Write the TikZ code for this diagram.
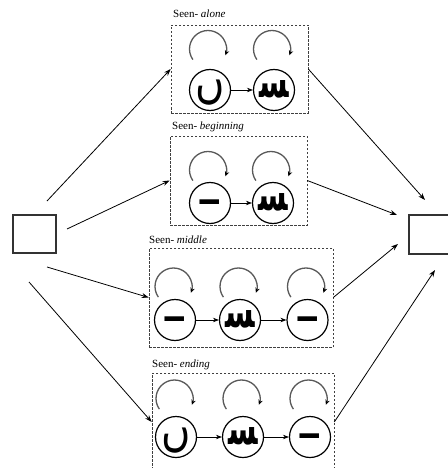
\documentclass[tikz,border=0pt]{standalone}
\usepackage{fontspec}
\setmainfont{Liberation Serif}
\newfontfamily\arabicfont[Script=Arabic]{DejaVu Sans}
\TeXXeTstate=1
\usetikzlibrary{arrows.meta}
\newcommand\statloop[2]{\draw[loopy] ([shift={(215:18.5pt)}]#1,#2) arc[start angle=215,end angle=-20,radius=18.5pt];}
\newcommand\inbox[1]{\smash{\makebox[0pt]{#1}}}
\newcommand\tailglyph{\inbox{\raisebox{-8pt}{\scalebox{1}[1.2]{\arabicfont\fontsize{40}{40}\selectfont\beginR ں\endR}}}}
\newcommand\teethglyph{\inbox{\raisebox{-7pt}{\scalebox{1}[1.6]{\arabicfont\bfseries\fontsize{29}{29}\selectfont\beginR ﺴ\endR}}}}
\newcommand\barglyph{\inbox{\raisebox{-1.5pt}{\scalebox{1.8}[1.25]{\arabicfont\bfseries\fontsize{30}{30}\selectfont\beginR ـ\endR}}}}
\begin{document}
\begin{tikzpicture}[x=1pt,y=-1pt,
 st/.style={circle,draw,line width=1.2pt,minimum size=41pt,inner sep=0pt},
 grp/.style={draw=black!75,line width=0.6pt,dash pattern=on 2.5pt off 1.5pt,inner sep=0pt},
 lbl/.style={anchor=west,font=\fontsize{11}{12}\selectfont,inner sep=0pt},
 sq/.style={draw=black!80,line width=1.3pt,inner sep=0pt},
 conn/.style={line width=0.8pt,-{Stealth[length=7pt,width=5pt]}},
 link/.style={line width=0.7pt,-{Stealth[length=6pt,width=4.5pt]}},
 loopy/.style={draw=black!65,line width=1.3pt,-{Stealth[length=5pt,width=4.5pt,black]}}]
\useasboundingbox (0,0) rectangle (447,468);
% squares
\node[sq,minimum width=43pt,minimum height=38pt] (L) at (34.5,234) {};
\node[sq,minimum width=43pt,minimum height=39pt] (R) at (430.5,234.5) {};
% groups
\node[grp,minimum width=137pt,minimum height=88pt] (b1) at (239.5,69) {};
\node[grp,minimum width=137pt,minimum height=89pt] (b2) at (238.5,180.5) {};
\node[grp,minimum width=184pt,minimum height=99pt] (b3) at (241,297.5) {};
\node[grp,minimum width=182pt,minimum height=98pt] (b4) at (243,422) {};
% labels
\node[lbl] (t1) at (173,14) {Seen- \textit{alone}};
\node[lbl] (t2) at (172,127) {Seen- \textit{beginning}};
\node[lbl] (t3) at (149,240) {Seen- \textit{middle}};
\node[lbl] (t4) at (152,365) {Seen- \textit{ending}};
% states box1
\node[st] (a1) at (210,90) {\tailglyph};
\node[st] (a2) at (274,90) {\teethglyph};
\draw[link] (a1) -- (a2);
\statloop{208}{49}
\statloop{272}{49}
% box2
\node[st] (c1) at (210,203) {\barglyph};
\node[st] (c2) at (273,203) {\teethglyph};
\draw[link] (c1) -- (c2);
\statloop{208}{170}
\statloop{271}{170}
% box3
\node[st] (m1) at (175,320) {\barglyph};
\node[st] (m2) at (240,320) {\teethglyph};
\node[st] (m3) at (307.5,320) {\barglyph};
\draw[link] (m1) -- (m2);
\draw[link] (m2) -- (m3);
\statloop{173.5}{286.5}
\statloop{238.5}{286.5}
\statloop{306}{286.5}
% box4
\node[st] (e1) at (176,437) {\tailglyph};
\node[st] (e2) at (243,437) {\teethglyph};
\node[st] (e3) at (310,437) {\barglyph};
\draw[link] (e1) -- (e2);
\draw[link] (e2) -- (e3);
\statloop{174.5}{398.5}
\statloop{241.5}{398.5}
\statloop{308.5}{398.5}
% free ends
\coordinate (s1) at (47,201);
\coordinate (s2) at (67,229);
\coordinate (s3) at (47,267);
\coordinate (s4) at (29,282);
\coordinate (f1) at (425,200);
\coordinate (f2) at (397,215);
\coordinate (f3) at (398,244);
\coordinate (f4) at (435,270);
\draw[conn] (s1) -- (b1.west);
\draw[conn] (s2) -- (b2.west);
\draw[conn] (s3) -- (b3.west);
\draw[conn] (s4) -- (b4.west);
\draw[conn] (b1.east) -- (f1);
\draw[conn] (b2.east) -- (f2);
\draw[conn] (b3.east) -- (f3);
\draw[conn] (b4.east) -- (f4);
\end{tikzpicture}
\end{document}
